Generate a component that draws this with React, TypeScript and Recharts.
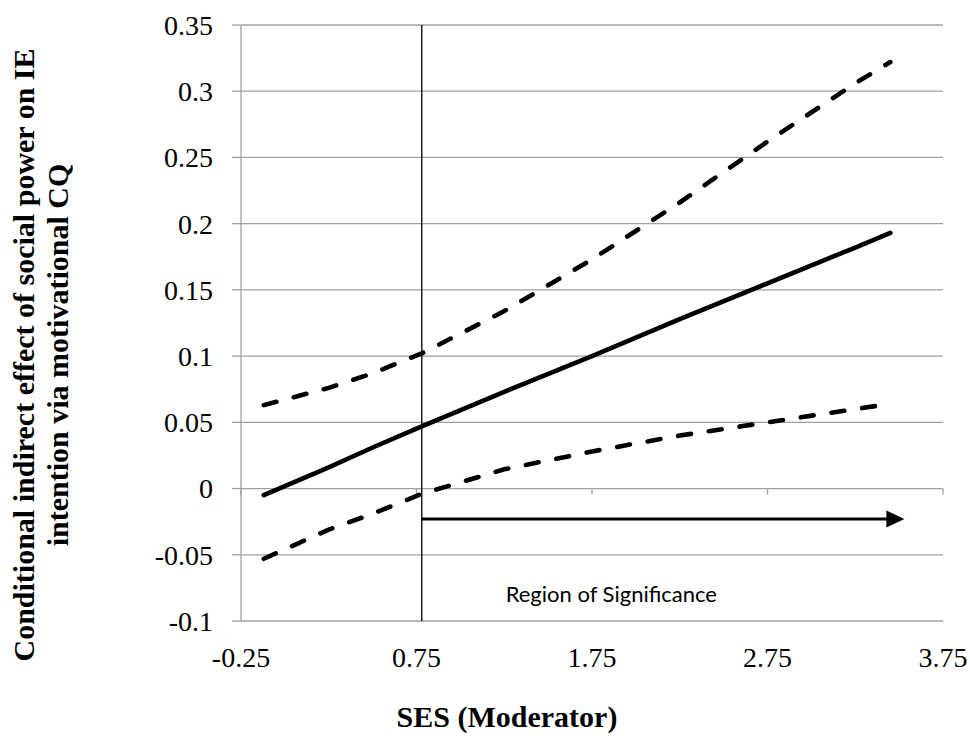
import React from "react";
import {
  LineChart,
  Line,
  XAxis,
  YAxis,
  CartesianGrid,
  ReferenceLine,
  ReferenceDot,
} from "recharts";

const sesValues = [-0.12, 0.25, 0.5, 0.78, 1.25, 1.75, 2.25, 2.75, 3.25, 3.45];
const effect = [-0.005, 0.016, 0.031, 0.047, 0.073, 0.1, 0.128, 0.155, 0.182, 0.193];
const upperCI = [0.063, 0.076, 0.087, 0.102, 0.134, 0.173, 0.216, 0.262, 0.306, 0.322];
const lowerCI = [-0.053, -0.031, -0.019, -0.004, 0.0145, 0.028, 0.04, 0.05, 0.06, 0.064];

const xTicks = [-0.25, 0.75, 1.75, 2.75, 3.75];
const yTicks = [-0.1, -0.05, 0, 0.05, 0.1, 0.15, 0.2, 0.25, 0.3, 0.35];

const jnPoint = 0.78;
const arrowY = -0.023;
const arrowEnd = 3.53;
const regionLabel = "Region of Significance";
const regionLabelPos = { x: 1.86, y: -0.08 };

const yTitle1 = "Conditional indirect effect of social power on IE";
const yTitle2 = "intention via motivational CQ";
const xTitle = "SES (Moderator)";

const data = sesValues.map((s, i) => ({
  ses: s,
  effect: effect[i],
  upper: upperCI[i],
  lower: lowerCI[i],
}));

const serif = "'Liberation Serif', 'Times New Roman', serif";

const ArrowShape = (p: any) => {
  const { x1, y1, x2, y2 } = p;
  const head = 18;
  return (
    <g>
      <line x1={x1} y1={y1} x2={x2 - head + 1} y2={y2} stroke="#000" strokeWidth={3} />
      <polygon
        points={`${x2},${y2} ${x2 - head},${y2 - 8.5} ${x2 - head},${y2 + 8.5}`}
        fill="#000"
      />
    </g>
  );
};

export default function App() {
  return (
    <div style={{ position: "absolute", left: 0, top: 0, background: "#fff" }}>
      <LineChart
        width={970}
        height={736}
        data={data}
        margin={{ top: 25, right: 27, left: 0, bottom: 0 }}
      >
        <CartesianGrid vertical={false} stroke="#a0a0a0" strokeWidth={1.3} />
        <XAxis
          dataKey="ses"
          type="number"
          domain={[-0.25, 3.75]}
          ticks={xTicks}
          interval={0}
          axisLine={false}
          tickLine={false}
          tickSize={0}
          tickMargin={26}
          height={115}
          tick={{ fontFamily: serif, fontSize: 28, fill: "#000" }}
          label={{
            content: () => (
              <text
                x={507}
                y={727}
                textAnchor="middle"
                fontFamily={serif}
                fontWeight="bold"
                fontSize={30}
                fill="#000"
              >
                {xTitle}
              </text>
            ),
          }}
        />
        <YAxis
          type="number"
          domain={[-0.1, 0.35]}
          ticks={yTicks}
          interval={0}
          width={241}
          axisLine={{ stroke: "#a0a0a0", strokeWidth: 1.3 }}
          tickLine={{ stroke: "#a0a0a0", strokeWidth: 1.3 }}
          tickSize={9}
          tickMargin={19}
          tick={{ fontFamily: serif, fontSize: 28, fill: "#000" }}
          label={{
            content: () => (
              <text
                transform="rotate(-90)"
                textAnchor="middle"
                fontFamily={serif}
                fontWeight="bold"
                fontSize={30}
                fill="#000"
              >
                <tspan x={-355} y={34}>
                  {yTitle1}
                </tspan>
                <tspan x={-355} y={68}>
                  {yTitle2}
                </tspan>
              </text>
            ),
          }}
        />
        {xTicks.map((t) => (
          <ReferenceLine
            key={"tk" + t}
            segment={[
              { x: t, y: 0 },
              { x: t, y: -0.0045 },
            ]}
            stroke="#a0a0a0"
            strokeWidth={1.3}
          />
        ))}
        <ReferenceLine x={jnPoint} stroke="#222" strokeWidth={1.5} />
        <ReferenceLine
          segment={[
            { x: jnPoint, y: arrowY },
            { x: arrowEnd, y: arrowY },
          ]}
          shape={ArrowShape}
        />
        <ReferenceDot
          x={regionLabelPos.x}
          y={regionLabelPos.y}
          r={0}
          fill="none"
          stroke="none"
          label={{
            content: (p: any) => {
              const vb = p.viewBox || {};
              return (
                <text
                  x={vb.x + (vb.width || 0) / 2}
                  y={vb.y + (vb.height || 0) / 2}
                  dy="0.35em"
                  textAnchor="middle"
                  fontFamily="Lato, 'Open Sans', sans-serif"
                  fontSize={22}
                  fill="#000"
                >
                  {regionLabel}
                </text>
              );
            },
          }}
        />
        <Line
          dataKey="upper"
          stroke="#000"
          strokeWidth={4.6}
          strokeDasharray="13 18"
          strokeLinecap="round"
          dot={false}
          activeDot={false}
          isAnimationActive={false}
        />
        <Line
          dataKey="lower"
          stroke="#000"
          strokeWidth={4.6}
          strokeDasharray="13 18"
          strokeLinecap="round"
          dot={false}
          activeDot={false}
          isAnimationActive={false}
        />
        <Line
          dataKey="effect"
          stroke="#000"
          strokeWidth={4.6}
          strokeLinecap="round"
          dot={false}
          activeDot={false}
          isAnimationActive={false}
        />
      </LineChart>
    </div>
  );
}
